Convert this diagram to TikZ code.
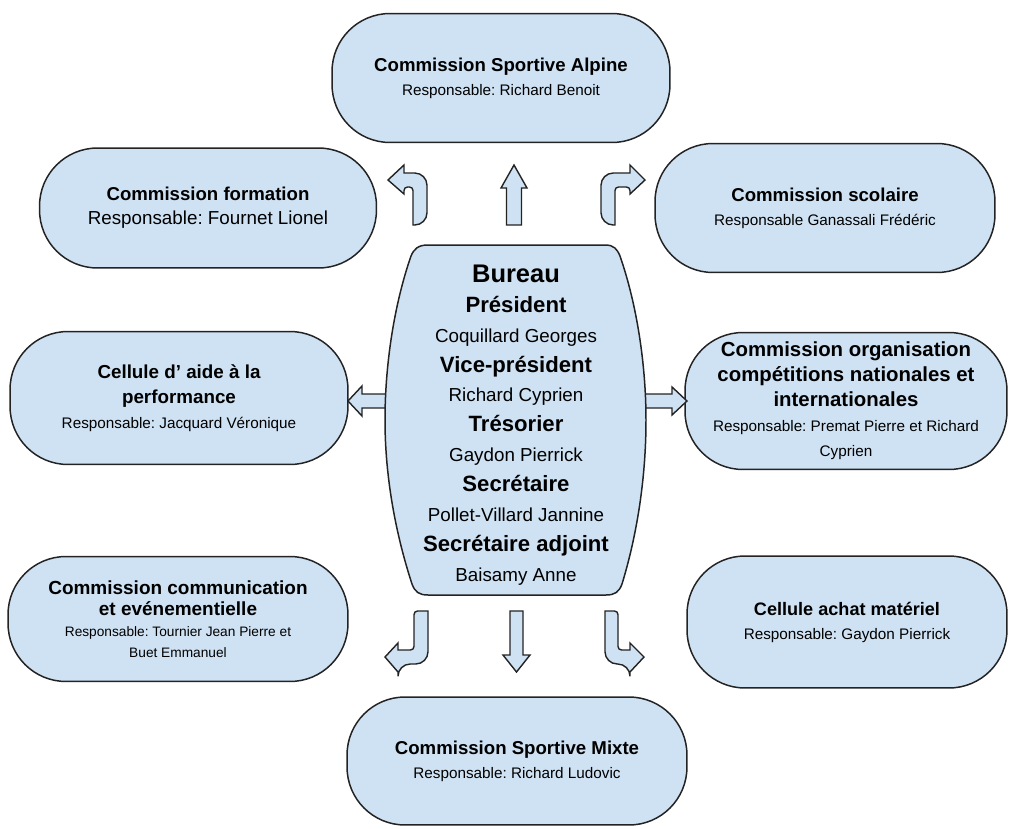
\documentclass[tikz,border=0pt]{standalone}
\usepackage{fontspec}
\setmainfont{Liberation Sans}
\usepackage{xcolor}
\usepackage{tikz}
\usetikzlibrary{calc}
\frenchspacing

\definecolor{boxblue}{RGB}{207,226,243}
\definecolor{edgegray}{RGB}{35,35,35}

\newcommand{\hd}[2][10.6]{{\fontsize{#1}{13.6}\selectfont\bfseries #2}}
\newcommand{\role}[1]{{\fontsize{12.6}{17}\selectfont\bfseries #1}}

\begin{document}
\begin{tikzpicture}[x=0.02cm,y=-0.02cm,
  box/.style={draw=edgegray,fill=boxblue,line width=0.85pt,rectangle,
    rounded corners=1.16cm,align=center,inner sep=0pt,
    font=\fontsize{8.7}{13.6}\selectfont},
  blockarrow/.style={draw=edgegray,fill=boxblue,line width=0.8pt,line join=miter}]
\useasboundingbox (0,0) rectangle (1012,829);

% commissions
\node[box,minimum width=6.76cm,minimum height=2.58cm] (alpine) at (501,78)
  {\hd{Commission Sportive Alpine}\\Responsable: Richard Benoit};
\node[box,minimum width=6.74cm,minimum height=2.4cm] (formation) at (208,208)
  {\hd{Commission formation}\\{\fontsize{10.7}{13.6}\selectfont Responsable: Fournet Lionel}};
\node[box,minimum width=6.8cm,minimum height=2.58cm] (scolaire) at (825,208)
  {\hd{Commission scolaire}\\Responsable Ganassali Frédéric};
\node[box,minimum width=6.76cm,minimum height=2.66cm,font=\fontsize{8.7}{14.2}\selectfont] (aide) at (179,398)
  {\hd[10.7]{Cellule d’ aide à la}\\\hd[10.7]{performance}\\Responsable: Jacquard Véronique};
\node[box,minimum width=6.44cm,minimum height=2.74cm,font=\fontsize{8.7}{14.2}\selectfont] (orga) at (846,401)
  {\hd[11.6]{Commission organisation}\\\hd[11.6]{compétitions nationales et}\\\hd[11.6]{internationales}\\Responsable: Premat Pierre et Richard\\Cyprien};
\node[box,minimum width=6.8cm,minimum height=2.5cm,font=\fontsize{7.8}{12}\selectfont] (comm) at (178,619)
  {\hd[10.8]{Commission communication}\\\hd[10.8]{et evénementielle}\\Responsable: Tournier Jean Pierre et\\Buet Emmanuel};
\node[box,minimum width=6.4cm,minimum height=2.64cm] (achat) at (847,622)
  {\hd[10.3]{Cellule achat matériel}\\Responsable: Gaydon Pierrick};
\node[box,minimum width=6.8cm,minimum height=2.56cm] (mixte) at (517,761)
  {\hd{Commission Sportive Mixte}\\Responsable: Richard Ludovic};

% arrow roots
\coordinate (tl) at (413,225);
\coordinate (tm) at (506.5,225);
\coordinate (tr) at (615,225);
\coordinate (ml) at (392,394);
\coordinate (mr) at (640,394);
\coordinate (bl) at (428,611);
\coordinate (bm) at (510,611);
\coordinate (br) at (605,611);

\draw[blockarrow] (tl) [rounded corners=2pt] -- ++(0,-38) -- ++(-9,0) [sharp corners] -- ++(0,7)
  -- ++(-16,-14) -- ++(16,-15) -- ++(0,8) [rounded corners=7pt] -- ++(23,0) -- ++(0,52) [sharp corners] -- cycle;
\draw[blockarrow] (tm) -- ++(0,-37) -- ++(-5.5,0) -- ++(13,-23) -- ++(13,23) -- ++(-5.5,0) -- ++(0,37) -- cycle;
\draw[blockarrow] (tr) [rounded corners=2pt] -- ++(0,-38) -- ++(15,0) [sharp corners] -- ++(0,7)
  -- ++(15,-14) -- ++(-15,-15) -- ++(0,8) [rounded corners=7pt] -- ++(-29,0) -- ++(0,52) [sharp corners] -- cycle;
\draw[blockarrow] (ml) -- ++(-30,0) -- ++(0,-8) -- ++(-14,15) -- ++(14,15) -- ++(0,-8) -- ++(30,0) -- cycle;
\draw[blockarrow] (mr) -- ++(32,0) -- ++(0,-7) -- ++(15,14) -- ++(-15,14) -- ++(0,-7) -- ++(-32,0) -- cycle;
\draw[blockarrow] (bl) [rounded corners=7pt] -- ++(0,53) -- ++(-30,0) [sharp corners] -- ++(0,8)
  -- ++(-13,-15) -- ++(13,-14) -- ++(0,7) [rounded corners=2pt] -- ++(16,0) -- ++(0,-39) [sharp corners] -- cycle;
\draw[blockarrow] (bm) -- ++(0,44) -- ++(-7,0) -- ++(13.5,17) -- ++(13.5,-17) -- ++(-7,0) -- ++(0,-44) -- cycle;
\draw[blockarrow] (br) [rounded corners=7pt] -- ++(0,53) -- ++(25,0) [sharp corners] -- ++(0,8)
  -- ++(14,-15) -- ++(-14,-14) -- ++(0,7) [rounded corners=2pt] -- ++(-12,0) -- ++(0,-39) [sharp corners] -- cycle;

% bureau
\draw[draw=edgegray,fill=boxblue,line width=0.85pt] (428,245) -- (605,245)
  .. controls (614,245) and (617,249) .. (620,256)
  .. controls (637,305) and (646,365) .. (646,420)
  .. controls (646,478) and (637,535) .. (622,584)
  .. controls (619,592) and (615,595) .. (606,595) -- (428,595)
  .. controls (419,595) and (415,592) .. (412,584)
  .. controls (396,535) and (385,478) .. (385,420)
  .. controls (385,365) and (394,305) .. (411,256)
  .. controls (414,249) and (418,245) .. (428,245) -- cycle;
\node[font=\fontsize{10.7}{17}\selectfont,align=center,inner sep=0pt] (bureau) at (516,425)
  {{\fontsize{14.5}{17}\selectfont\bfseries Bureau}\\\role{Président}\\Coquillard Georges\\
   \role{Vice-président}\\Richard Cyprien\\\role{Trésorier}\\Gaydon Pierrick\\
   \role{Secrétaire}\\Pollet-Villard Jannine\\\role{Secrétaire adjoint}\\Baisamy Anne};

\end{tikzpicture}
\end{document}
